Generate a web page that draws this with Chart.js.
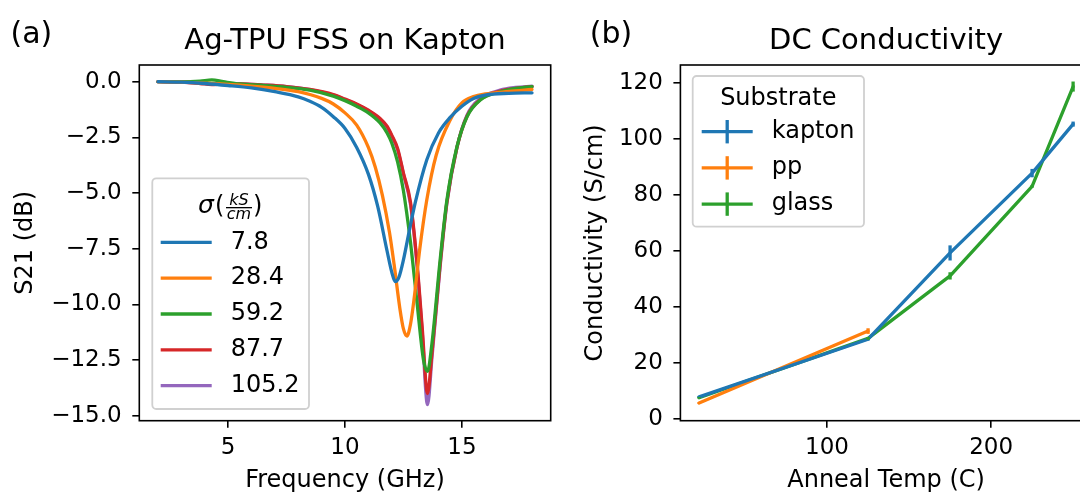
<!DOCTYPE html>
<html><head><meta charset="utf-8">
<script src="https://cdn.jsdelivr.net/npm/chart.js@4.4.1/dist/chart.umd.min.js"></script>
<style>
html,body{margin:0;padding:0;width:1080px;height:496px;overflow:hidden;background:#fff;}
#wrapA{position:absolute;left:0;top:0;width:560px;height:496px;}
#wrapB{position:absolute;left:560px;top:0;width:560px;height:496px;}
canvas{display:block;}
</style></head><body>
<div id="wrapA"><canvas id="chartA" width="560" height="496"></canvas></div>
<div id="wrapB"><canvas id="chartB" width="560" height="496"></canvas></div>
<script>
// ---------- Panel (a): S21 vs frequency ----------
const sigmaLabels = ['7.8', '28.4', '59.2', '87.7', '105.2'];
const freq_7_8 = [2, 3, 4, 5, 6, 7, 8, 8.5, 9, 9.5, 10, 10.5, 11, 11.4, 11.8, 12.0, 12.15, 12.3, 12.5, 12.75, 13.0, 13.5, 14.0, 14.5, 15.0, 15.5, 16, 17, 18];
const s21_7_8  = [0, -0.02, -0.08, -0.17, -0.28, -0.45, -0.68, -0.88, -1.15, -1.57, -2.1, -2.95, -4.15, -5.6, -7.6, -8.55, -8.98, -8.8, -8.0, -6.7, -5.45, -3.5, -2.3, -1.6, -1.1, -0.75, -0.6, -0.52, -0.5];
const freq_28_4 = [2, 3, 4, 5, 6, 7, 8, 9, 9.5, 10, 10.5, 11, 11.3, 11.6, 11.9, 12.1, 12.35, 12.5, 12.65, 12.8, 12.95, 13.2, 13.5, 13.9, 14.5, 15.0, 15.5, 16, 17, 18];
const s21_28_4  = [0, -0.02, -0.06, -0.12, -0.2, -0.3, -0.45, -0.75, -1.0, -1.4, -1.95, -2.95, -3.85, -5.1, -6.75, -8.2, -10.2, -11.1, -11.42, -10.9, -9.8, -7.5, -5.3, -3.3, -1.72, -0.95, -0.67, -0.55, -0.44, -0.35];
const freq_59_2 = [2, 3, 3.8, 4.3, 4.8, 5.5, 6.5, 7.5, 8.5, 9.5, 10, 10.5, 11, 11.5, 11.8, 12.0, 12.25, 12.5, 12.8, 13.07, 13.36, 13.53, 13.72, 14.07, 14.36, 14.79, 15.22, 15.79, 16.64, 17.3, 18];
const s21_59_2  = [0, 0, 0.03, 0.08, 0.0, -0.1, -0.17, -0.25, -0.38, -0.65, -0.85, -1.1, -1.4, -1.85, -2.3, -2.75, -3.6, -4.9, -7.2, -9.8, -12.5, -13.0, -11.75, -8.0, -5.31, -2.92, -1.57, -0.82, -0.45, -0.3, -0.22];
const freq_87_7 = [2, 3, 3.8, 4.3, 4.8, 5.5, 6.5, 7.5, 8.5, 9.5, 10, 10.5, 11, 11.5, 11.8, 12.0, 12.25, 12.5, 12.8, 13.07, 13.3, 13.53, 13.72, 14.07, 14.36, 14.79, 15.22, 15.79, 16.64, 17.3, 18];
const s21_87_7  = [0, -0.02, -0.08, -0.13, -0.1, -0.1, -0.15, -0.22, -0.35, -0.58, -0.78, -1.0, -1.28, -1.65, -2.0, -2.4, -3.0, -4.1, -5.4, -8.0, -11.0, -14.0, -12.2, -8.2, -5.4, -2.95, -1.55, -0.8, -0.42, -0.3, -0.22];
const freq_105_2 = [2, 3, 3.8, 4.3, 4.8, 5.5, 6.5, 7.5, 8.5, 9.5, 10, 10.5, 11, 11.5, 11.8, 12.0, 12.25, 12.5, 12.8, 13.07, 13.3, 13.53, 13.72, 14.07, 14.36, 14.79, 15.22, 15.79, 16.64, 17.3, 18];
const s21_105_2  = [0, -0.02, -0.06, -0.1, -0.1, -0.1, -0.15, -0.22, -0.35, -0.6, -0.8, -1.02, -1.3, -1.68, -2.05, -2.45, -3.05, -4.15, -5.5, -8.1, -11.2, -14.5, -12.4, -8.3, -5.45, -2.95, -1.5, -0.75, -0.38, -0.26, -0.2];
const freqTicks = [5, 10, 15];
const s21Ticks = [0, -2.5, -5, -7.5, -10, -12.5, -15];

// ---------- Panel (b): DC conductivity ----------
const substrateLabels = ['kapton', 'pp', 'glass'];
const temp_kapton = [22, 125, 175, 225, 250];
const cond_kapton = [7.8, 28.4, 59.2, 87.7, 105.2];
const err_kapton  = [0.3, 0.5, 2.7, 1.5, 0.9];
const temp_pp = [22, 125];
const cond_pp = [5.6, 31.3];
const err_pp  = [0.3, 1.0];
const temp_glass = [22, 125, 175, 225, 250];
const cond_glass = [7.5, 28.7, 51.0, 83.0, 118.6];
const err_glass  = [0.3, 0.5, 1.3, 0.5, 1.8];
const tempTicks = [100, 200];
const condTicks = [0, 20, 40, 60, 80, 100, 120];

const C = ['#1f77b4', '#ff7f0e', '#2ca02c', '#d62728', '#9467bd'];
const LW = 3.3;
const FONT = "'DejaVu Sans', 'Liberation Sans', sans-serif";
const pts = (xs, ys) => xs.map((x, i) => ({x: x, y: ys[i]}));

function roundRectPath(ctx, x, y, w, h, r) {
  ctx.beginPath();
  ctx.moveTo(x + r, y);
  ctx.lineTo(x + w - r, y); ctx.arcTo(x + w, y, x + w, y + r, r);
  ctx.lineTo(x + w, y + h - r); ctx.arcTo(x + w, y + h, x + w - r, y + h, r);
  ctx.lineTo(x + r, y + h); ctx.arcTo(x, y + h, x, y + h - r, r);
  ctx.lineTo(x, y + r); ctx.arcTo(x, y, x + r, y, r);
  ctx.closePath();
}

const decor = {
  id: 'decor',
  afterDatasetsDraw(chart, args, o) {
    const ctx = chart.ctx;
    const xs = chart.scales.x, ys = chart.scales.y;
    chart.data.datasets.forEach(ds => {
      if (!ds.errors) return;
      ctx.save();
      ctx.strokeStyle = ds.borderColor; ctx.lineWidth = LW;
      ds.data.forEach((p, j) => {
        const e = ds.errors[j];
        const px = xs.getPixelForValue(p.x);
        ctx.beginPath();
        ctx.moveTo(px, ys.getPixelForValue(p.y - e));
        ctx.lineTo(px, ys.getPixelForValue(p.y + e));
        ctx.stroke();
      });
      ctx.restore();
    });
    const a = chart.chartArea;
    ctx.save();
    ctx.strokeStyle = '#000'; ctx.lineWidth = 1.6;
    ctx.strokeRect(a.left, a.top, a.right - a.left, a.bottom - a.top);
    ctx.restore();
  },
  afterDraw(chart, args, o) {
    const ctx = chart.ctx;
    ctx.save();
    ctx.fillStyle = '#000';
    ctx.font = '30px ' + FONT;
    ctx.textAlign = 'left'; ctx.textBaseline = 'alphabetic';
    ctx.fillText(o.panel, o.panelX, o.panelY);
    const L = o.legend;
    ctx.globalAlpha = 0.8;
    roundRectPath(ctx, L.x, L.y, L.w, L.h, 4);
    ctx.fillStyle = '#fff'; ctx.fill();
    ctx.globalAlpha = 1;
    ctx.strokeStyle = '#d0d0d0'; ctx.lineWidth = 1.8; ctx.stroke();
    ctx.fillStyle = '#000';
    if (L.sigma) {
      ctx.textBaseline = 'alphabetic'; ctx.textAlign = 'left';
      ctx.font = 'italic 25px ' + FONT;
      ctx.fillText('\u03c3', L.tx - 41, L.ty);
      ctx.font = '24px ' + FONT;
      ctx.fillText('(', L.tx - 24, L.ty);
      ctx.font = 'italic 16px ' + FONT;
      ctx.textAlign = 'center';
      ctx.fillText('kS', L.tx, L.ty - 8);
      ctx.fillText('cm', L.tx, L.ty + 6);
      ctx.fillRect(L.tx - 13, L.ty - 6, 26, 1.3);
      ctx.textAlign = 'left';
      ctx.font = '24px ' + FONT;
      ctx.fillText(')', L.tx + 14, L.ty);
    } else {
      ctx.font = '24px ' + FONT;
      ctx.textAlign = 'center'; ctx.textBaseline = 'alphabetic';
      ctx.fillText(L.title, L.tx, L.ty);
    }
    chart.data.datasets.forEach((ds, i) => {
      const y = L.y0 + i * L.dy;
      ctx.strokeStyle = ds.borderColor; ctx.lineWidth = LW;
      ctx.beginPath(); ctx.moveTo(L.lx1, y); ctx.lineTo(L.lx2, y); ctx.stroke();
      if (L.err) {
        const cx = (L.lx1 + L.lx2) / 2;
        ctx.beginPath(); ctx.moveTo(cx, y - L.err); ctx.lineTo(cx, y + L.err); ctx.stroke();
      }
      ctx.fillStyle = '#000';
      ctx.font = '24px ' + FONT;
      ctx.textAlign = 'left'; ctx.textBaseline = 'middle';
      ctx.fillText(ds.label, L.textX, y);
    });
    ctx.restore();
  }
};

function axisX(min, max, ticks, title, fmt) {
  return {
    type: 'linear', min: min, max: max,
    afterBuildTicks: s => { s.ticks = ticks.map(v => ({value: v})); },
    afterFit: s => { s.height = 75.3; },
    grid: {display: true, drawOnChartArea: false, drawTicks: true, tickLength: 7, color: '#000', lineWidth: 1.6},
    border: {display: false},
    ticks: {color: '#000', font: {family: FONT, size: 23}, padding: 7, maxRotation: 0, autoSkip: false, callback: fmt},
    title: {display: true, text: title, color: '#000', font: {family: FONT, size: 24}, padding: {top: 0, bottom: 0.6}}
  };
}
function axisY(min, max, ticks, title, fmt, width, tpad) {
  return {
    type: 'linear', min: min, max: max,
    afterBuildTicks: s => { s.ticks = ticks.map(v => ({value: v})); },
    afterFit: s => { s.width = width; },
    grid: {display: true, drawOnChartArea: false, drawTicks: true, tickLength: 7, color: '#000', lineWidth: 1.6},
    border: {display: false},
    ticks: {color: '#000', font: {family: FONT, size: 23}, padding: 10.6, autoSkip: false, callback: fmt},
    title: {display: true, text: title, color: '#000', font: {family: FONT, size: 24}, padding: {top: tpad, bottom: 0}}
  };
}
function titleOpts(text) {
  return {display: true, text: text, color: '#000', fullSize: false,
    font: {family: FONT, size: 29, weight: 'normal', lineHeight: 1.2}, padding: {top: 23.6, bottom: 6.6}};
}

const lineDs = (label, xs, ys, color, extra) => Object.assign({
  label: label, data: pts(xs, ys), borderColor: color, backgroundColor: color,
  borderWidth: LW, pointRadius: 0, fill: false, borderCapStyle: 'round', borderJoinStyle: 'round'
}, extra || {});

Chart.defaults.font.family = FONT;

new Chart(document.getElementById('chartA'), {
  type: 'line',
  data: {datasets: [
    lineDs(sigmaLabels[0], freq_7_8, s21_7_8, C[0], {cubicInterpolationMode: 'monotone'}),
    lineDs(sigmaLabels[1], freq_28_4, s21_28_4, C[1], {cubicInterpolationMode: 'monotone'}),
    lineDs(sigmaLabels[2], freq_59_2, s21_59_2, C[2], {cubicInterpolationMode: 'monotone'}),
    lineDs(sigmaLabels[3], freq_87_7, s21_87_7, C[3], {cubicInterpolationMode: 'monotone'}),
    lineDs(sigmaLabels[4], freq_105_2, s21_105_2, C[4], {cubicInterpolationMode: 'monotone'})
  ]},
  options: {
    responsive: false, animation: false, devicePixelRatio: 1,
    layout: {padding: {left: 0, right: 9.3, top: 0, bottom: 0}},
    scales: {
      x: axisX(1.2, 18.8, freqTicks, 'Frequency (GHz)', v => String(v)),
      y: axisY(-15.22, 0.75, s21Ticks, 'S21 (dB)', v => (v < 0 ? '\u2212' : '') + Math.abs(v).toFixed(1), 139.3, 11.6)
    },
    plugins: {
      legend: {display: false}, tooltip: {enabled: false},
      title: titleOpts('Ag-TPU FSS on Kapton'),
      decor: {panel: '(a)', panelX: 10.5, panelY: 42.7,
        legend: {sigma: true, x: 152.3, y: 178.3, w: 156.7, h: 230.7, tx: 239, ty: 213,
          y0: 242.3, dy: 35.85, lx1: 160.7, lx2: 211.7, textX: 230.7, err: 0}}
    }
  },
  plugins: [decor]
});

new Chart(document.getElementById('chartB'), {
  type: 'line',
  data: {datasets: [
    lineDs(substrateLabels[0], temp_kapton, cond_kapton, C[0], {errors: err_kapton}),
    lineDs(substrateLabels[1], temp_pp, cond_pp, C[1], {errors: err_pp}),
    lineDs(substrateLabels[2], temp_glass, cond_glass, C[2], {errors: err_glass})
  ]},
  options: {
    responsive: false, animation: false, devicePixelRatio: 1,
    layout: {padding: {left: 0, right: 28.2, top: 0, bottom: 0}},
    scales: {
      x: axisX(10.6, 261.4, tempTicks, 'Anneal Temp (C)', v => String(v)),
      y: axisY(-0.7, 126.3, condTicks, 'Conductivity (S/cm)', v => String(v), 120.4, 21.6)
    },
    plugins: {
      legend: {display: false}, tooltip: {enabled: false},
      title: titleOpts('DC Conductivity'),
      decor: {panel: '(b)', panelX: 29.7, panelY: 42.7,
        legend: {sigma: false, title: 'Substrate', x: 132.7, y: 76, w: 171.3, h: 150.7, tx: 218.3, ty: 105,
          y0: 131.7, dy: 36.2, lx1: 141.7, lx2: 192.7, textX: 211.7, err: 11.7}}
    }
  },
  plugins: [decor]
});
</script>
</body></html>
